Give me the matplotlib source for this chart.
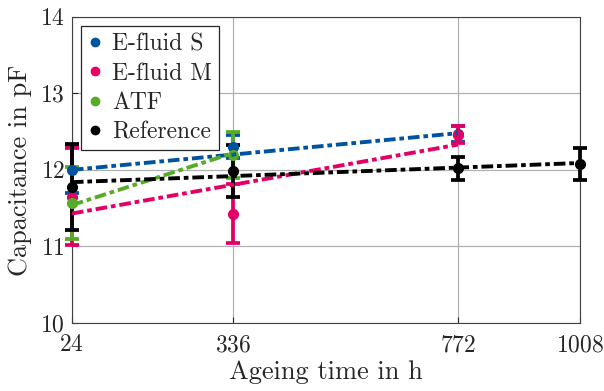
import matplotlib
matplotlib.use("Agg")
import matplotlib.pyplot as plt
from matplotlib.lines import Line2D

plt.rcParams['font.family'] = 'serif'
plt.rcParams['font.serif'] = ['cmr10', 'DejaVu Serif']
plt.rcParams['mathtext.fontset'] = 'cm'
plt.rcParams['axes.formatter.use_mathtext'] = True

# Data
labels = ["E-fluid S", "E-fluid M", "ATF", "Reference"]
colors = ["#00549F", "#E30066", "#57AB27", "#000000"]

x_s = [24, 336, 772]
y_s = [12.00, 12.30, 12.47]
e_s = [0.30, 0.15, 0.10]

x_m = [24, 336, 772]
y_m = [11.65, 11.43, 12.46]
e_m = [0.63, 0.38, 0.11]

x_a = [24, 336]
y_a = [11.57, 12.20]
e_a = [0.47, 0.30]

x_r = [24, 336, 772, 1008]
y_r = [11.78, 11.98, 12.02, 12.08]
e_r = [0.56, 0.34, 0.15, 0.21]

# fitted trend lines (start/end values)
fit_s_x = [24, 772]; fit_s_y = [12.00, 12.48]
fit_m_x = [24, 772]; fit_m_y = [11.43, 12.33]
fit_a_x = [24, 336]; fit_a_y = [11.54, 12.22]
fit_r_x = [24, 1008]; fit_r_y = [11.84, 12.09]

xticks = [24, 336, 772, 1008]
yticks = [10, 11, 12, 13, 14]

fig = plt.figure(figsize=(6.04, 3.91), dpi=100)
ax = fig.add_axes([0.119, 0.174, 0.841, 0.783])

series = [(x_s, y_s, e_s, fit_s_x, fit_s_y),
          (x_m, y_m, e_m, fit_m_x, fit_m_y),
          (x_a, y_a, e_a, fit_a_x, fit_a_y),
          (x_r, y_r, e_r, fit_r_x, fit_r_y)]

handles = []
for (xs, ys, es, fx, fy), c, lab in zip(series, colors, labels):
    ax.errorbar(xs, ys, yerr=es, fmt='o', color=c, markersize=7,
                elinewidth=2.7, capsize=5, capthick=2.7, zorder=3,
                clip_on=False)
    ax.plot(fx, fy, linestyle=(0, (3, 1, 1.2, 1)), color=c, linewidth=2.8, zorder=4)
    handles.append(Line2D([], [], marker='o', linestyle='none', color=c,
                          markersize=6, label=lab))

ax.set_xlim(24, 1008)
ax.set_ylim(10, 14)
ax.set_xticks(xticks)
ax.set_yticks(yticks)
ax.grid(True, color='#b0b0b0', linewidth=0.9)
ax.set_axisbelow(True)
ax.tick_params(labelsize=17, direction='in', length=4, colors='#262626')
ax.tick_params(axis='x', pad=8)
ax.tick_params(axis='y', pad=5)
ax.set_xlabel("Ageing time in h", fontsize=19, labelpad=3, color='#262626')
ax.set_ylabel("Capacitance in pF", fontsize=19, labelpad=6, color='#262626')
for sp in ax.spines.values():
    sp.set_color('#404040')

leg = ax.legend(handles=handles, loc='upper left', fontsize=17, frameon=True,
                fancybox=False, edgecolor='#262626', handlelength=0.6,
                handletextpad=0.4, borderpad=0.3, labelspacing=0.3,
                borderaxespad=0.4, framealpha=1)
leg.get_frame().set_linewidth(0.9)
for t in leg.get_texts():
    t.set_color('#262626')

fig.savefig("out.png", dpi=100)
